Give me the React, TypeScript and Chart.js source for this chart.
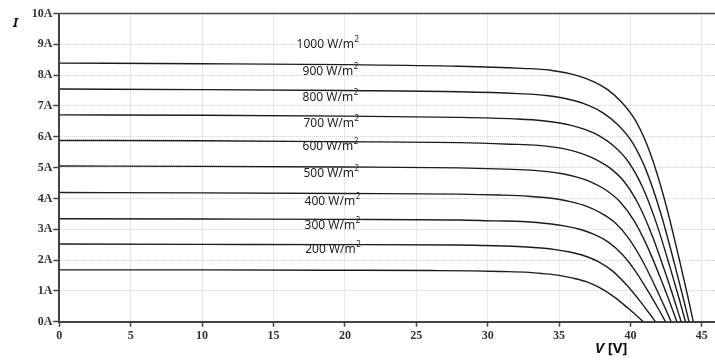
import React, { useEffect, useRef } from "react";
import { Chart, registerables } from "chart.js";

Chart.register(...registerables);

// ---- data ----
const irradianceLabels = ["1000 W/m", "900 W/m", "800 W/m", "700 W/m", "600 W/m", "500 W/m", "400 W/m", "300 W/m", "200 W/m"];
const labelV = [16.62, 17.04, 17.04, 17.1, 17.04, 17.1, 17.18, 17.18, 17.22];
const labelI = [8.98, 8.1, 7.27, 6.42, 5.68, 4.8, 3.9, 3.12, 2.33];

const v1000 = [0, 10, 20, 28, 32.4, 34.4, 36.4, 37.4, 38.4, 39.4, 40.4, 41.4, 42.4, 43.4, 44.0, 44.4];
const i1000 = [8.39, 8.37, 8.34, 8.29, 8.22, 8.16, 7.97, 7.79, 7.53, 7.11, 6.49, 5.45, 3.94, 2.06, 0.85, 0];

const v900 = [0, 10, 20, 28, 32.1, 34.1, 36.1, 37.1, 38.1, 39.1, 40.1, 41.1, 42.1, 43.1, 43.7, 44.1];
const i900 = [7.55, 7.53, 7.5, 7.46, 7.4, 7.34, 7.17, 7.01, 6.77, 6.4, 5.84, 4.91, 3.55, 1.85, 0.76, 0];

const v800 = [0, 10, 20, 28, 31.85, 33.85, 35.85, 36.85, 37.85, 38.85, 39.85, 40.85, 41.85, 42.85, 43.45, 43.85];
const i800 = [6.71, 6.7, 6.67, 6.63, 6.58, 6.52, 6.37, 6.23, 6.02, 5.69, 5.19, 4.36, 3.15, 1.64, 0.68, 0];

const v700 = [0, 10, 20, 28, 31.55, 33.55, 35.55, 36.55, 37.55, 38.55, 39.55, 40.55, 41.55, 42.55, 43.15, 43.55];
const i700 = [5.88, 5.87, 5.84, 5.81, 5.76, 5.72, 5.59, 5.46, 5.27, 4.99, 4.55, 3.82, 2.76, 1.44, 0.59, 0];

const v600 = [0, 10, 20, 28, 31.25, 33.25, 35.25, 36.25, 37.25, 38.25, 39.25, 40.25, 41.25, 42.25, 42.85, 43.25];
const i600 = [5.05, 5.04, 5.02, 4.99, 4.95, 4.91, 4.8, 4.69, 4.53, 4.28, 3.9, 3.28, 2.37, 1.24, 0.51, 0];

const v500 = [0, 10, 20, 28, 30.85, 32.85, 34.85, 35.85, 36.85, 37.85, 38.85, 39.85, 40.85, 41.85, 42.45, 42.85];
const i500 = [4.19, 4.18, 4.16, 4.14, 4.11, 4.07, 3.98, 3.89, 3.76, 3.55, 3.24, 2.72, 1.97, 1.03, 0.42, 0];

const v400 = [0, 10, 20, 28, 30.45, 32.45, 34.45, 35.45, 36.45, 37.45, 38.45, 39.45, 40.45, 41.45, 42.05, 42.45];
const i400 = [3.34, 3.33, 3.32, 3.3, 3.27, 3.25, 3.17, 3.1, 3.0, 2.83, 2.58, 2.17, 1.57, 0.82, 0.34, 0];

const v300 = [0, 10, 20, 28, 29.75, 31.75, 33.75, 34.75, 35.75, 36.75, 37.75, 38.75, 39.75, 40.75, 41.35, 41.75];
const i300 = [2.52, 2.51, 2.5, 2.49, 2.47, 2.45, 2.39, 2.34, 2.26, 2.14, 1.95, 1.64, 1.18, 0.62, 0.25, 0];

const v200 = [0, 10, 20, 26, 28.9, 30.9, 32.9, 33.9, 34.9, 35.9, 36.9, 37.9, 38.9, 39.9, 40.5, 40.9];
const i200 = [1.68, 1.68, 1.67, 1.66, 1.65, 1.63, 1.6, 1.56, 1.51, 1.42, 1.3, 1.09, 0.79, 0.41, 0.17, 0];

const curves = [
  [v1000, i1000],
  [v900, i900],
  [v800, i800],
  [v700, i700],
  [v600, i600],
  [v500, i500],
  [v400, i400],
  [v300, i300],
  [v200, i200],
];

const xMin = 0;
const xMax = 45.92;
const xStep = 5;
const yMin = 0;
const yMax = 10;
const yStep = 1;
const yTickSuffix = "A";
const yTitle = "I";
const xTitleItalic = "V";
const xTitleRest = " [V]";

const tickFont = { family: "'Liberation Serif', 'Times New Roman', serif", size: 12, weight: "bold" as const };

const annotate = {
  id: "annotate",
  afterDatasetsDraw(chart: any) {
    const { ctx, chartArea, scales } = chart;
    const xs = scales.x;
    const ys = scales.y;
    ctx.save();
    // top frame line
    ctx.strokeStyle = "#444";
    ctx.lineWidth = 1.5;
    const ty = ys.getPixelForValue(yMax);
    ctx.beginPath();
    ctx.moveTo(chartArea.left, ty);
    ctx.lineTo(chartArea.right, ty);
    ctx.stroke();

    // irradiance labels
    ctx.fillStyle = "#222";
    ctx.textBaseline = "middle";
    ctx.textAlign = "left";
    for (let k = 0; k < irradianceLabels.length; k++) {
      const px = xs.getPixelForValue(labelV[k]);
      const py = ys.getPixelForValue(labelI[k]);
      ctx.font = "12px 'Noto Sans', sans-serif";
      ctx.fillText(irradianceLabels[k], px, py);
      const w = ctx.measureText(irradianceLabels[k]).width;
      ctx.font = "8px 'Noto Sans', sans-serif";
      ctx.fillText("2", px + w + 0.5, py - 5);
    }

    // axis titles
    ctx.fillStyle = "#111";
    ctx.textBaseline = "alphabetic";
    ctx.font = "bold italic 13px 'Noto Sans', sans-serif";
    ctx.fillText(yTitle, 13, 27);

    ctx.font = "bold italic 15px 'Noto Sans', sans-serif";
    const x0 = 595;
    const by = 353;
    ctx.fillText(xTitleItalic, x0, by);
    const w1 = ctx.measureText(xTitleItalic).width;
    ctx.font = "bold 15px 'Noto Sans', sans-serif";
    ctx.fillText(xTitleRest, x0 + w1, by);
    ctx.restore();
  },
};

export default function App() {
  const canvasRef = useRef<HTMLCanvasElement | null>(null);

  useEffect(() => {
    document.body.style.margin = "0";
    const canvas = canvasRef.current;
    if (!canvas) return;
    const datasets = curves.map(([vs, is]) => ({
      data: vs.map((v, k) => ({ x: v, y: is[k] })),
      showLine: true,
      borderColor: "#1c1c1c",
      borderWidth: 1.4,
      pointRadius: 0,
      cubicInterpolationMode: "monotone" as const,
      fill: false,
    }));
    const chart = new Chart(canvas, {
      type: "scatter",
      data: { datasets },
      options: {
        responsive: false,
        animation: false,
        devicePixelRatio: 1,
        layout: { padding: { top: 13.5, right: 0, left: 0, bottom: 0 } },
        plugins: { legend: { display: false }, tooltip: { enabled: false }, title: { display: false } },
        scales: {
          x: {
            type: "linear",
            min: xMin,
            max: xMax,
            afterFit: (s: any) => {
              s.height = 38.3;
            },
            ticks: {
              stepSize: xStep,
              includeBounds: false,
              color: "#333",
              font: tickFont,
              padding: 2,
              maxRotation: 0,
            },
            grid: {
              color: "#cfcfcf",
              lineWidth: 1,
              tickColor: "#444",
              tickLength: 5,
              tickWidth: 1.5,
            },
            border: { display: true, color: "#444", width: 2, dash: [1, 1] },
          },
          y: {
            type: "linear",
            min: yMin,
            max: yMax,
            afterFit: (s: any) => {
              s.width = 59.3;
            },
            ticks: {
              stepSize: yStep,
              color: "#333",
              font: tickFont,
              padding: 1,
              callback: (v: any) => `${v}${yTickSuffix}`,
            },
            grid: {
              color: "#cfcfcf",
              lineWidth: 1,
              tickColor: "#444",
              tickLength: 6,
              tickWidth: 1.5,
            },
            border: { display: true, color: "#444", width: 2, dash: [1, 1] },
          },
        },
      },
      plugins: [annotate],
    });
    return () => chart.destroy();
  }, []);

  return (
    <div style={{ width: 715, height: 360, background: "#fff" }}>
      <canvas ref={canvasRef} width={715} height={360} style={{ display: "block" }} />
    </div>
  );
}
